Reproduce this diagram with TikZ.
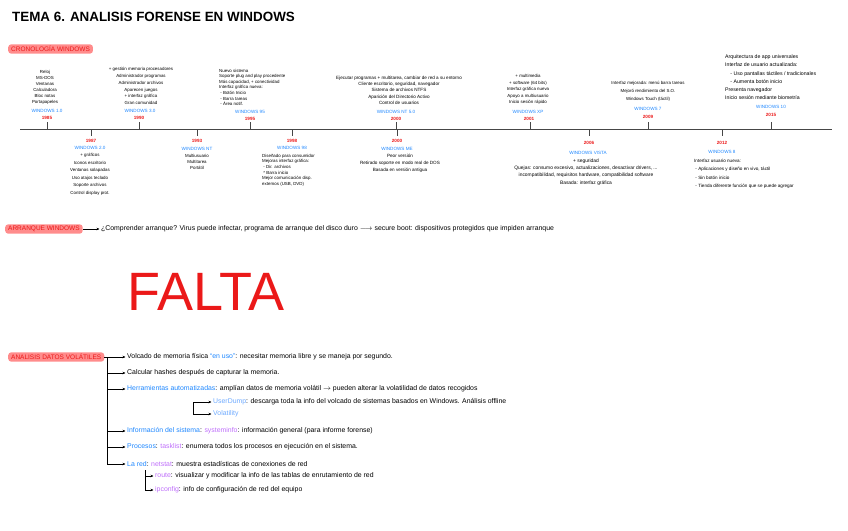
\documentclass[tikz,border=0pt]{standalone}
\usepackage{fontspec}
\setmainfont{Liberation Sans}
\usetikzlibrary{arrows.meta}
\definecolor{winblue}{RGB}{30,135,255}
\definecolor{ltblue}{RGB}{110,170,255}
\definecolor{violet2}{RGB}{190,110,250}
\definecolor{hlred}{RGB}{255,140,140}
\definecolor{redt}{RGB}{235,25,25}
\definecolor{axisc}{RGB}{70,70,70}
\begin{document}
\begin{tikzpicture}[x=1pt,y=-1pt,
 tx/.style={inner sep=0pt, align=center, font=\fontsize{4.4}{6}\selectfont},
 txl/.style={tx, align=left},
 yr/.style={inner sep=0pt, text=redt, font=\fontsize{4.6}{5}\selectfont\bfseries},
 win/.style={inner sep=0pt, text=winblue, font=\fontsize{4.6}{5}\selectfont},
 hl/.style={fill=hlred, rounded corners=3pt, text=redt, inner xsep=3pt, inner ysep=1.8pt, font=\fontsize{6.5}{6.5}\selectfont, anchor=west},
 axisln/.style={draw=axisc, line width=1pt},
 tickln/.style={draw=axisc, line width=0.9pt},
 arr/.style={draw=black, line width=0.6pt, -{Stealth[length=3pt,width=2.6pt]}, shorten >=1.5pt},
 ln/.style={draw=black, line width=0.6pt},
 itm/.style={anchor=west, inner sep=0pt, font=\fontsize{6.9}{7}\selectfont},
]
\useasboundingbox (0,0) rectangle (848,530);

% title
\node[anchor=west, inner sep=0pt, font=\fontsize{13.4}{14}\selectfont\bfseries] (title) at (12,17) {TEMA 6. ANALISIS FORENSE EN WINDOWS};
\node[hl] (cron) at (8,49) {CRONOLOGÍA WINDOWS};

% timeline axis
\coordinate (L0) at (20,129);
\coordinate (L1) at (832,129);
\draw[axisln] (L0) -- (L1);

% ---------- above ----------
% Windows 1.0
\coordinate (a1) at (47,129); \coordinate (a1t) at (47,122);
\draw[tickln] (a1) -- (a1t);
\node[yr] (ya1) at (47,118) {1985};
\node[win] (wa1) at (47,111) {WINDOWS 1.0};
\node[tx, anchor=south] (da1) at (45,105) {Reloj\\MS-DOS\\Ventanas\\Calculadora\\Bloc notas\\Portapapeles};

% Windows 3.0
\coordinate (a2) at (139,129); \coordinate (a2t) at (139,122);
\draw[tickln] (a2) -- (a2t);
\node[yr] (ya2) at (139,118) {1990};
\node[win] (wa2) at (140,111) {WINDOWS 3.0};
\node[tx, anchor=south, font=\fontsize{4.4}{6.8}\selectfont] (da2) at (141,105) {+ gestión memoria procesadores\\Administrador programas\\Administrador archivos\\Aparecen juegos\\+ interfaz gráfica\\Gran comunidad};

% Windows 95
\coordinate (a3) at (250,129); \coordinate (a3t) at (250,122);
\draw[tickln] (a3) -- (a3t);
\node[yr] (ya3) at (250,118.5) {1995};
\node[win] (wa3) at (250,112) {WINDOWS 95};
\node[txl, anchor=south west, font=\fontsize{4.4}{5.6}\selectfont] (da3) at (219,106) {Nuevo sistema\\Soporte plug and play procedente\\Más capacidad, + conectividad\\Interfaz gráfica nueva:\\\ - Botón Inicio\\\ - Barra tareas\\\ - Área notif.};

% Windows NT 5.0
\coordinate (a4) at (396,129); \coordinate (a4t) at (396,122);
\draw[tickln] (a4) -- (a4t);
\node[yr] (ya4) at (396,118.5) {2000};
\node[win] (wa4) at (396,112) {WINDOWS NT 5.0};
\node[tx, anchor=south, font=\fontsize{4.6}{6.4}\selectfont] (da4) at (399,105) {Ejecutar programas + multitarea, cambiar de red a su entorno\\Cliente escritorio, seguridad, navegador\\Sistema de archivos NTFS\\Aparición del Directorio Activo\\Control de usuarios};

% Windows XP
\coordinate (a5) at (530,129); \coordinate (a5t) at (530,122);
\draw[tickln] (a5) -- (a5t);
\node[yr] (ya5) at (529,119) {2001};
\node[win] (wa5) at (528,112) {WINDOWS XP};
\node[tx, anchor=south, font=\fontsize{4.4}{6.6}\selectfont] (da5) at (528,105) {+ multimedia\\+ software (64 bits)\\Interfaz gráfica nueva\\Apoyo a multiusuario\\Inicio sesión rápido};

% Windows 7
\coordinate (a6) at (648,129); \coordinate (a6t) at (648,122);
\draw[tickln] (a6) -- (a6t);
\node[yr] (ya6) at (648,117) {2009};
\node[win] (wa6) at (648,109) {WINDOWS 7};
\node[tx, anchor=south, font=\fontsize{4.4}{8}\selectfont] (da6) at (648,102) {Interfaz mejorada: menú barra tareas\\Mejoró rendimiento del S.O.\\Windows Touch (táctil)};

% Windows 10
\coordinate (a7) at (771,129); \coordinate (a7t) at (771,122);
\draw[tickln] (a7) -- (a7t);
\node[yr] (ya7) at (771,115) {2015};
\node[win] (wa7) at (771,107) {WINDOWS 10};
\node[txl, anchor=south west, font=\fontsize{5.2}{8.2}\selectfont] (da7) at (725,100) {Arquitectura de app universales\\Interfaz de usuario actualizada:\\\quad - Uso pantallas táctiles / tradicionales\\\quad - Aumenta botón inicio\\Presenta navegador\\Inicio sesión mediante biometría};

% ---------- below ----------
% Windows 2.0
\coordinate (b1) at (91,129); \coordinate (b1t) at (91,136);
\draw[tickln] (b1) -- (b1t);
\node[yr] (yb1) at (91,141) {1987};
\node[win] (wb1) at (90,148) {WINDOWS 2.0};
\node[tx, anchor=north, font=\fontsize{4.4}{7.6}\selectfont] (db1) at (90,153) {+ gráficos\\Iconos escritorio\\Ventanas solapadas\\Uso atajos teclado\\Soporte archivos\\Control display prot.};

% Windows NT
\coordinate (b2) at (197,129); \coordinate (b2t) at (197,136);
\draw[tickln] (b2) -- (b2t);
\node[yr] (yb2) at (197,141) {1993};
\node[win] (wb2) at (197,149) {WINDOWS NT};
\node[tx, anchor=north, font=\fontsize{4.4}{6}\selectfont] (db2) at (197,154) {Multiusuario\\Multitarea\\Portátil};

% Windows 98
\coordinate (b3) at (292,129); \coordinate (b3t) at (292,136);
\draw[tickln] (b3) -- (b3t);
\node[yr] (yb3) at (292,141) {1998};
\node[win] (wb3) at (292,148) {WINDOWS 98};
\node[txl, anchor=north west, font=\fontsize{4.4}{5.6}\selectfont] (db3) at (262,154) {Diseñado para consumidor\\Mejoras interfaz gráfica:\\\ - Dir. archivos\\\ * Barra inicio\\Mejor comunicación disp.\\externos (USB, DVD)};

% Windows ME
\coordinate (b4) at (397,129); \coordinate (b4t) at (397,136);
\draw[tickln] (b4) -- (b4t);
\node[yr] (yb4) at (397,141) {2000};
\node[win] (wb4) at (397,149) {WINDOWS ME};
\node[tx, anchor=north, font=\fontsize{4.6}{7}\selectfont] (db4) at (400,154) {Peor versión\\Retirado soporte en modo real de DOS\\Basada en versión antigua};

% Windows Vista
\coordinate (b5) at (589,129); \coordinate (b5t) at (589,136);
\draw[tickln] (b5) -- (b5t);
\node[yr] (yb5) at (589,143) {2006};
\node[win] (wb5) at (588,153) {WINDOWS VISTA};
\node[tx, anchor=north, font=\fontsize{4.9}{8}\selectfont] (db5) at (586,159) {+ seguridad\\[-1pt]Quejas: consumo excesivo, actualizaciones, desactivar drivers, ...\\[-1.5pt]incompatibilidad, requisitos hardware, compatibilidad software\\Basada: interfaz gráfica};

% Windows 8
\coordinate (b6) at (722,129); \coordinate (b6t) at (722,136);
\draw[tickln] (b6) -- (b6t);
\node[yr] (yb6) at (722,143) {2012};
\node[win] (wb6) at (722,152) {WINDOWS 8};
\node[txl, anchor=north west, font=\fontsize{4.6}{8.4}\selectfont] (db6) at (694,159) {Interfaz usuario nueva:\\\ - Aplicaciones y diseño en vivo, táctil\\\ - Sin botón inicio\\\ - Tienda diferente función que se puede agregar};

% ---------- arranque ----------
\node[hl] (arr0) at (5,229) {ARRANQUE WINDOWS};
\node[itm] (arr1) at (101,229) {¿Comprender arranque? Virus puede infectar, programa de arranque del disco duro $\longrightarrow$ secure boot: dispositivos protegidos que impiden arranque};
\draw[arr] (arr0.east) -- (arr1.west);

% ---------- FALTA ----------
\node[inner sep=0pt, text=redt, font=\fontsize{54}{54}\selectfont] (falta) at (206,292) {FALTA};

% ---------- volatiles ----------
\node[hl] (vol) at (8,357) {ANALISIS DATOS VOLÁTILES};
\node[itm] (i1) at (127,357) {Volcado de memoria física \textcolor{winblue}{“en uso”}: necesitar memoria libre y se maneja por segundo.};
\node[itm] (i2) at (127,373) {Calcular hashes después de capturar la memoria.};
\node[itm] (i3) at (127,389) {\textcolor{winblue}{Herramientas automatizadas}: amplían datos de memoria volátil $\rightarrow$ pueden alterar la volatilidad de datos recogidos};
\node[itm] (s1) at (213,402) {\textcolor{ltblue}{UserDump}: descarga toda la info del volcado de sistemas basados en Windows. Análisis offline};
\node[itm] (s2) at (213,414) {\textcolor{ltblue}{Volatility}};
\node[itm] (i4) at (127,431) {\textcolor{winblue}{Información del sistema}: \textcolor{violet2}{systeminfo}: información general (para informe forense)};
\node[itm] (i5) at (127,447) {\textcolor{winblue}{Procesos}: \textcolor{violet2}{tasklist}: enumera todos los procesos en ejecución en el sistema.};
\node[itm] (i6) at (127,464) {\textcolor{winblue}{La red}: \textcolor{violet2}{netstat}: muestra estadísticas de conexiones de red};
\node[itm] (s3) at (155,476) {\textcolor{violet2}{route}: visualizar y modificar la info de las tablas de enrutamiento de red};
\node[itm] (s4) at (155,490) {\textcolor{violet2}{ipconfig}: info de configuración de red del equipo};

\coordinate (v1) at (107,357);
\coordinate (v2) at (107,373);
\coordinate (v3) at (107,389);
\coordinate (v4) at (107,431);
\coordinate (v5) at (107,447);
\coordinate (v6) at (107,464);
\draw[arr] (vol.east) -- (i1.west);
\draw[ln] (v1) -- (v6);
\draw[arr] (v2) -- (i2.west);
\draw[arr] (v3) -- (i3.west);
\draw[arr] (v4) -- (i4.west);
\draw[arr] (v5) -- (i5.west);
\draw[arr] (v6) -- (i6.west);

\coordinate (u1) at (193,402);
\coordinate (u2) at (193,414);
\draw[ln] (u1) -- (u2);
\draw[arr] (u1) -- (s1.west);
\draw[arr] (u2) -- (s2.west);

\coordinate (r0) at (145,470);
\coordinate (r1) at (145,476);
\coordinate (r2) at (145,490);
\draw[ln] (r0) -- (r2);
\draw[arr] (r1) -- (s3.west);
\draw[arr] (r2) -- (s4.west);
\end{tikzpicture}
\end{document}
